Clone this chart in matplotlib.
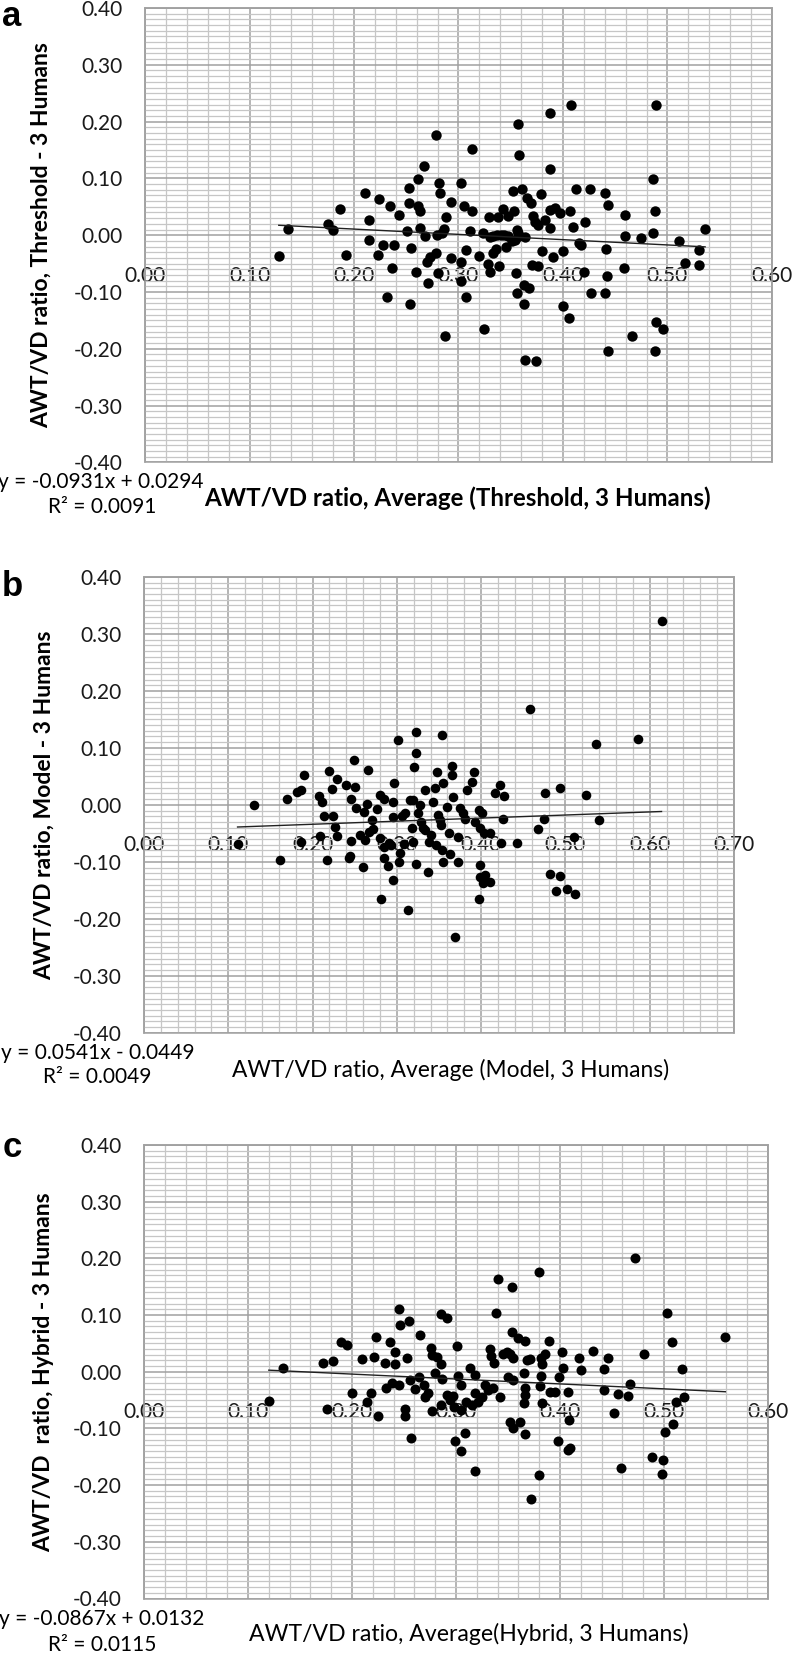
import matplotlib
matplotlib.use('Agg')
import matplotlib.pyplot as plt
import numpy as np

plt.rcParams['font.family'] = ['Lato', 'DejaVu Sans']
plt.rcParams['axes.unicode_minus'] = False

# ---------------- data ----------------
a_x = [0.128, 0.137, 0.175, 0.180, 0.187, 0.192, 0.211, 0.214, 0.214, 0.224, 0.223, 0.228, 0.234, 0.236, 0.238, 0.232,
       0.243, 0.253, 0.253, 0.261, 0.267, 0.261, 0.263, 0.251, 0.255, 0.259, 0.254, 0.263, 0.268, 0.270, 0.273, 0.271,
       0.278, 0.280, 0.279, 0.281, 0.282, 0.284, 0.286, 0.288, 0.287, 0.278, 0.293, 0.293, 0.302, 0.305, 0.302, 0.302,
       0.307, 0.307, 0.313, 0.313, 0.311, 0.320, 0.329, 0.324, 0.323, 0.328, 0.330, 0.333, 0.333, 0.338, 0.337, 0.339,
       0.343, 0.345, 0.347, 0.352, 0.353, 0.355, 0.356, 0.330, 0.341, 0.344, 0.347, 0.351, 0.354, 0.356, 0.357, 0.358,
       0.364, 0.336,
       0.357, 0.358, 0.361, 0.366, 0.369, 0.371, 0.373, 0.379, 0.376, 0.383, 0.388, 0.388, 0.392, 0.397, 0.388, 0.388,
       0.408, 0.407, 0.410, 0.412, 0.421, 0.415, 0.417, 0.426, 0.440, 0.443, 0.441, 0.459, 0.459, 0.475, 0.486, 0.488,
       0.486, 0.489, 0.511, 0.530, 0.536, 0.517, 0.530, 0.458, 0.442, 0.420, 0.390, 0.400, 0.380, 0.370, 0.376,
       0.363, 0.367, 0.363, 0.364, 0.374, 0.400, 0.406, 0.427, 0.440, 0.443, 0.466, 0.489, 0.496, 0.488]
a_y = [-0.037, 0.011, 0.020, 0.010, 0.047, -0.035, 0.075, 0.026, -0.008, 0.064, -0.035, -0.018, 0.051, -0.058, -0.018, -0.108,
       0.035, 0.083, 0.057, 0.099, 0.122, 0.052, 0.042, 0.007, -0.022, -0.064, -0.122, 0.012, -0.002, -0.048, -0.038, -0.085,
       -0.031, -0.067, 0.001, 0.092, 0.074, 0.004, 0.011, 0.032, -0.177, 0.177, 0.059, -0.040, 0.092, 0.052, -0.048, -0.080,
       -0.026, -0.108, 0.152, 0.043, 0.007, -0.037, 0.032, -0.166, 0.004, -0.050, -0.064, -0.002, -0.031, 0.032, 0.001, -0.054,
       0.047, -0.020, 0.033, 0.077, 0.042, -0.067, -0.102, -0.003, 0.001, 0.001, -0.002, -0.011, -0.008, 0.010, 0.004, -0.002,
       -0.003, -0.024,
       0.196, 0.142, 0.082, 0.065, 0.057, 0.033, 0.024, 0.072, 0.018, 0.027, 0.045, 0.013, 0.048, 0.039, 0.215, 0.117,
       0.230, 0.042, 0.014, 0.081, 0.024, -0.013, -0.018, 0.081, 0.074, 0.054, -0.024, 0.036, -0.001, -0.005, 0.099, 0.043,
       0.003, 0.230, -0.010, -0.026, 0.011, -0.049, -0.053, -0.058, -0.072, -0.064, -0.039, -0.028, -0.027, -0.053, -0.055,
       -0.087, -0.093, -0.121, -0.219, -0.222, -0.124, -0.145, -0.102, -0.101, -0.203, -0.178, -0.153, -0.165, -0.203]

b_x = [0.131, 0.111, 0.161, 0.170, 0.181, 0.186, 0.190, 0.186, 0.208, 0.211, 0.214, 0.209, 0.217, 0.219, 0.223, 0.224,
       0.229, 0.227, 0.229, 0.240, 0.249, 0.250, 0.246, 0.252, 0.246, 0.243, 0.244, 0.256, 0.260, 0.261, 0.264, 0.266,
       0.262, 0.270, 0.267, 0.272, 0.276, 0.280, 0.285, 0.280, 0.285, 0.285, 0.290, 0.281, 0.291, 0.293, 0.296, 0.297,
       0.301, 0.295, 0.296, 0.302, 0.304, 0.306, 0.310, 0.308, 0.313, 0.316, 0.319, 0.320, 0.323, 0.323, 0.318, 0.319,
       0.323, 0.325, 0.327, 0.329, 0.331, 0.333, 0.333, 0.337, 0.338, 0.341, 0.343, 0.345, 0.347, 0.348, 0.349, 0.351,
       0.352, 0.354, 0.355, 0.353, 0.355, 0.359, 0.362, 0.363, 0.365, 0.366, 0.367, 0.372, 0.373, 0.369, 0.375, 0.379,
       0.383, 0.381, 0.389, 0.391, 0.393, 0.397, 0.399, 0.399, 0.399, 0.397, 0.402,
       0.614, 0.458, 0.536, 0.586, 0.422, 0.416, 0.427, 0.476, 0.493, 0.524, 0.401, 0.426, 0.474, 0.540, 0.468, 0.410,
       0.403, 0.424, 0.443, 0.510, 0.405, 0.410, 0.482, 0.493, 0.489, 0.502, 0.511]
b_y = [0.000, -0.069, -0.096, 0.011, 0.022, 0.026, 0.052, -0.065, 0.015, 0.005, -0.020, -0.055, -0.096, 0.059, 0.028, -0.020,
       0.046, -0.039, -0.055, 0.035, 0.079, 0.032, 0.011, -0.005, -0.063, -0.094, -0.090, -0.053, -0.109, -0.012, 0.001, 0.061,
       -0.061, -0.027, -0.047, -0.042, -0.008, 0.017, 0.011, -0.059, -0.074, -0.094, -0.107, -0.165, -0.067, -0.070, 0.005, 0.038,
       0.114, -0.132, -0.021, -0.100, -0.085, -0.020, -0.015, -0.068, -0.184, 0.009, 0.008, 0.066, 0.128, 0.091, -0.040, -0.065,
       -0.103, -0.015, -0.001, -0.030, -0.041, 0.026, -0.044, -0.118, -0.065, -0.053, 0.005, 0.030, -0.071, 0.058, -0.018, -0.027,
       -0.036, 0.122, 0.038, -0.080, -0.100, -0.004, -0.049, -0.087, 0.068, 0.052, 0.014, -0.100, -0.056, -0.232, -0.006, -0.015,
       0.026, -0.024, 0.040, 0.058, -0.030, -0.009, -0.041, -0.106, -0.127, -0.165, -0.138,
       0.323, 0.169, 0.107, 0.115, 0.035, 0.020, 0.015, 0.021, 0.030, 0.018, -0.014, -0.025, -0.025, -0.027, -0.043, -0.049,
       -0.050, -0.067, -0.067, -0.057, -0.124, -0.136, -0.122, -0.125, -0.151, -0.147, -0.156]

c_x = [0.120, 0.134, 0.172, 0.182, 0.176, 0.189, 0.195, 0.200, 0.210, 0.214, 0.218, 0.221, 0.223, 0.225, 0.232, 0.233,
       0.237, 0.238, 0.241, 0.241, 0.245, 0.245, 0.246, 0.255, 0.253, 0.251, 0.251, 0.257, 0.256, 0.261, 0.264, 0.265,
       0.269, 0.270, 0.273, 0.276, 0.277, 0.280, 0.282, 0.286, 0.287, 0.277, 0.286, 0.291, 0.291, 0.294, 0.297, 0.301,
       0.302, 0.305, 0.299, 0.305, 0.309, 0.318, 0.313, 0.318, 0.318, 0.310, 0.315, 0.321, 0.325, 0.328, 0.331, 0.336,
       0.342, 0.286, 0.298, 0.305, 0.333, 0.334, 0.337, 0.340, 0.338, 0.345,
       0.380, 0.354, 0.472, 0.503, 0.559, 0.508, 0.481, 0.517, 0.354, 0.360, 0.366, 0.389, 0.402, 0.432, 0.446, 0.418,
       0.420, 0.442, 0.467, 0.456, 0.465, 0.442, 0.452, 0.519, 0.512, 0.509, 0.501, 0.488, 0.499, 0.498, 0.459, 0.380,
       0.372, 0.398, 0.408, 0.410, 0.409, 0.352, 0.362, 0.355, 0.366, 0.383, 0.365, 0.366, 0.366, 0.381, 0.390, 0.395,
       0.408, 0.382, 0.365, 0.355, 0.350, 0.352, 0.349, 0.355, 0.368, 0.371, 0.382, 0.386, 0.383, 0.399, 0.403]
c_y = [-0.052, 0.006, 0.016, 0.019, -0.066, 0.053, 0.047, -0.037, 0.022, -0.053, -0.038, 0.026, 0.061, -0.078, 0.015, -0.029,
       0.053, -0.019, 0.013, 0.035, -0.023, 0.111, 0.082, 0.090, 0.025, -0.066, -0.078, -0.116, -0.015, -0.031, -0.009, 0.065,
       -0.023, -0.044, -0.038, 0.042, 0.029, -0.003, 0.026, 0.014, -0.013, -0.070, 0.102, 0.095, -0.041, -0.050, -0.043, 0.045,
       -0.008, -0.023, -0.122, -0.140, -0.108, -0.175, 0.007, -0.005, -0.038, -0.053, -0.059, -0.053, -0.045, -0.023, -0.033, -0.028,
       -0.044, -0.059, -0.062, -0.068, 0.041, 0.028, 0.016, 0.163, 0.104, 0.031,
       0.176, 0.150, 0.200, 0.103, 0.062, 0.052, 0.032, 0.004, 0.071, 0.059, 0.055, 0.055, 0.035, 0.037, 0.024, 0.024,
       0.003, 0.005, -0.022, -0.039, -0.042, -0.033, -0.072, -0.044, -0.053, -0.092, -0.106, -0.151, -0.156, -0.180, -0.170, -0.183,
       -0.225, -0.123, -0.138, -0.135, -0.085, -0.088, -0.088, -0.100, -0.109, -0.055, -0.055, -0.041, -0.029, -0.025, -0.035, -0.035,
       -0.035, -0.008, -0.003, -0.015, -0.009, 0.032, 0.035, 0.024, 0.021, 0.022, 0.025, 0.031, 0.014, -0.009, 0.006]

# trendline coefficients (as printed on the chart)
slopes = [-0.0931, 0.0541, -0.0867]
intercepts = [0.0294, -0.0449, 0.0132]
eq_texts = ["y = -0.0931x + 0.0294", "y = 0.0541x - 0.0449", "y = -0.0867x + 0.0132"]
r2_texts = ["R² = 0.0091", "R² = 0.0049", "R² = 0.0115"]
letters = ["a", "b", "c"]
ylabels = ["AWT/VD ratio, Threshold - 3 Humans", "AWT/VD ratio, Model - 3 Humans",
           "AWT/VD  ratio, Hybrid - 3 Humans"]
xlabels = ["AWT/VD ratio, Average (Threshold, 3 Humans)", "AWT/VD ratio, Average (Model, 3 Humans)",
           "AWT/VD ratio, Average(Hybrid, 3 Humans)"]
xmaxes = [0.6, 0.7, 0.6]
y_ticks = [-0.4, -0.3, -0.2, -0.1, 0.0, 0.1, 0.2, 0.3, 0.4]

# ---------------- layout (pixels from top-left) ----------------
W, H = 793, 1655
fig = plt.figure(figsize=(W / 100, H / 100), dpi=100)

def fx(px):
    return px / W

def fy(py):
    return 1 - py / H

boxes = [(145, 8, 772, 462.4), (144, 577, 734, 1032.7), (144, 1145, 768, 1598.5)]
letter_pos = [(2, 25.5), (2, 596), (3, 1157)]
ylab_x = [41, 44, 44]
ylab_size = [16.5, 16.5, 16.5]
xlab_pos = [(457, 498), (451, 1070), (469, 1634)]
xlab_bold = [True, False, False]
xlab_size = [17.4, 16.4, 16.6]
eq_pos = [(101, 482), (98, 1053), (102, 1619)]
r2_pos = [(102, 507), (97, 1077), (102, 1645)]
dot_size = [56, 48, 52]

data = [(a_x, a_y), (b_x, b_y), (c_x, c_y)]

MAJ = '#a0a0a0'
MIN = '#c6c6c6'

for i in range(3):
    l, t, r, b = boxes[i]
    ax = fig.add_axes([fx(l), fy(b), (r - l) / W, (b - t) / H])
    xmax = xmaxes[i]
    ax.set_xlim(0, xmax)
    ax.set_ylim(-0.4, 0.4)
    xt = np.round(np.arange(0, xmax + 1e-9, 0.1), 2)
    ax.set_xticks(xt, ['%.2f' % v for v in xt])
    ax.set_xticks(np.round(np.arange(0, xmax + 1e-9, 0.02), 3), minor=True)
    ax.set_yticks(y_ticks, ['%.2f' % v for v in y_ticks])
    ax.set_yticks(np.round(np.arange(-0.4, 0.4001, 0.01), 3), minor=True)
    ax.grid(which='minor', color=MIN, lw=0.9)
    ax.grid(which='major', color=MAJ, lw=1.1)
    ax.set_axisbelow(True)
    ax.tick_params(which='both', length=0)
    ax.tick_params(axis='x', pad=22, labelsize=15, labelcolor='#1a1a1a')
    ax.tick_params(axis='y', pad=16, labelsize=15, labelcolor='#1a1a1a')
    ax.spines['bottom'].set_position(('data', 0))
    ax.spines['bottom'].set_visible(False)
    for s in ['left', 'right', 'top']:
        ax.spines[s].set_color(MAJ)
        ax.spines[s].set_linewidth(1.1)
    ax.patch.set_edgecolor(MAJ)
    ax.patch.set_linewidth(1.1)

    x, y = data[i]
    ax.scatter(x, y, s=dot_size[i], c='black', linewidths=0, zorder=3)
    xs = np.array([min(x), max(x)])
    ax.plot(xs, slopes[i] * xs + intercepts[i], color='#202020', lw=1.0, zorder=4)

    # texts
    fig.text(fx(letter_pos[i][0]), fy(letter_pos[i][1]), letters[i], fontsize=25,
             fontweight='bold', family=['Liberation Sans', 'DejaVu Sans'], va='baseline', ha='left')
    fig.text(fx(ylab_x[i]), fy((t + b) / 2), ylabels[i], rotation=90, fontsize=ylab_size[i],
             fontweight='bold', ha='center', va='center')
    fig.text(fx(xlab_pos[i][0]), fy(xlab_pos[i][1]), xlabels[i], fontsize=xlab_size[i],
             fontweight='bold' if xlab_bold[i] else 'normal', ha='center', va='center')
    fig.text(fx(eq_pos[i][0]), fy(eq_pos[i][1]), eq_texts[i], fontsize=15,
             ha='center', va='center')
    fig.text(fx(r2_pos[i][0]), fy(r2_pos[i][1]), r2_texts[i], fontsize=15,
             ha='center', va='center')

fig.savefig('out.png', dpi=100, facecolor='white')
